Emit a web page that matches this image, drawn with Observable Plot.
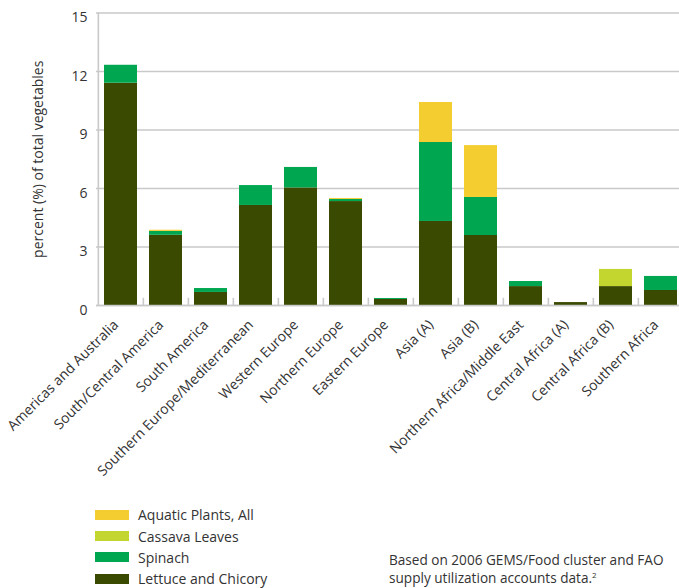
<!DOCTYPE html>
<html>
<head>
<meta charset="utf-8">
<script src="https://cdn.jsdelivr.net/npm/d3@7"></script>
<script src="https://cdn.jsdelivr.net/npm/@observablehq/plot@0.6"></script>
<style>
  html, body { margin: 0; padding: 0; background: #fff; overflow: hidden; }
  body { width: 679px; height: 588px; font-family: "Open Sans", sans-serif; color: #333; }
  #chart svg { display: block; }
  #bottom { position: relative; height: 98px; }
  .legend { position: absolute; left: 95px; top: 14px; }
  .row { display: flex; align-items: center; height: 21.4px; font-size: 14px; }
  .sw { width: 34px; height: 10px; margin-right: 9px; }
  .caption { position: absolute; left: 389px; top: 61px; font-size: 13.6px; line-height: 18px; white-space: nowrap; }
  .caption div { height: 18px; }
</style>
</head>
<body>
<div id="chart"></div>
<div id="bottom">
  <div class="legend" id="legend"></div>
  <div class="caption"><div>Based on 2006 GEMS/Food cluster and FAO</div><div>supply utilization accounts data.<sup style="font-size:8px;vertical-align:5px;line-height:0">2</sup></div></div>
</div>
<script>
const categories = ["Americas and Australia","South/Central America","South America","Southern Europe/Mediterranean","Western Europe","Northern Europe","Eastern Europe","Asia (A)","Asia (B)","Northern Africa/Middle East","Central Africa (A)","Central Africa (B)","Southern Africa"];
const seriesNames = ["Lettuce and Chicory","Spinach","Cassava Leaves","Aquatic Plants, All"];
const seriesColors = ["#3a4a01","#00a650","#c2d62f","#f4cd31"];
const lettuce = [11.4, 3.6, 0.67, 5.13, 6.03, 5.33, 0.31, 4.31, 3.59, 0.97, 0.15, 0.97, 0.77];
const spinach = [0.92, 0.2, 0.2, 1.02, 1.05, 0.11, 0.05, 4.05, 1.95, 0.26, 0, 0, 0.72];
const cassava = [0, 0, 0, 0, 0, 0, 0, 0, 0, 0, 0, 0.88, 0];
const aquatic = [0, 0.06, 0, 0, 0, 0.05, 0, 2.05, 2.66, 0, 0, 0, 0];
const yTicks = [0, 3, 6, 9, 12, 15];

const seriesValues = [lettuce, spinach, cassava, aquatic];
const data = [];
categories.forEach((c, i) => {
  seriesNames.forEach((s, j) => {
    data.push({region: c, series: s, value: seriesValues[j][i]});
  });
});

const step = (685 - 96) / categories.length;
const grid = "#c9c9c9";

const chart = Plot.plot({
  width: 679,
  height: 490,
  marginLeft: 96,
  marginTop: 12.5,
  marginBottom: 185,
  marginRight: 0,
  style: {fontFamily: "Open Sans, sans-serif", fontSize: "14px", color: "#333"},
  x: {domain: categories, range: [96, 685], paddingInner: 0.27, paddingOuter: 0.135, label: null},
  y: {domain: [0, 15], label: null},
  color: {domain: seriesNames, range: seriesColors},
  marks: [
    Plot.gridY(yTicks, {stroke: grid, strokeOpacity: 1, strokeWidth: 1.6}),
    Plot.ruleX([categories[0]], {dx: -step / 2, y1: 0, y2: 15, stroke: grid, strokeWidth: 1.6}),
    Plot.ruleX(categories.slice(1), {dx: -step / 2, y1: 0, y2: 0.37, stroke: grid, strokeWidth: 1.6}),
    Plot.barY(data, {x: "region", y: "value", fill: "series", order: seriesNames}),
    Plot.ruleY([0], {stroke: grid, strokeWidth: 1.6}),
    Plot.axisY(yTicks, {tickSize: 0, tickPadding: 9, dy: 5, fontSize: 14, label: null}),
    Plot.axisX({tickSize: 0, tickRotate: -45, tickPadding: 17, dx: -5, fontSize: 14, label: null}),
    Plot.text(["percent (%) of total vegetables"], {frameAnchor: "left", textAnchor: "middle", dx: -58, rotate: -90, fontSize: 14, fill: "#333"})
  ]
});
document.getElementById("chart").appendChild(chart);

const legend = document.getElementById("legend");
[3, 2, 1, 0].forEach(j => {
  const row = document.createElement("div");
  row.className = "row";
  const sw = document.createElement("div");
  sw.className = "sw";
  sw.style.background = seriesColors[j];
  const t = document.createElement("span");
  t.textContent = seriesNames[j];
  row.appendChild(sw);
  row.appendChild(t);
  legend.appendChild(row);
});
</script>
</body>
</html>
